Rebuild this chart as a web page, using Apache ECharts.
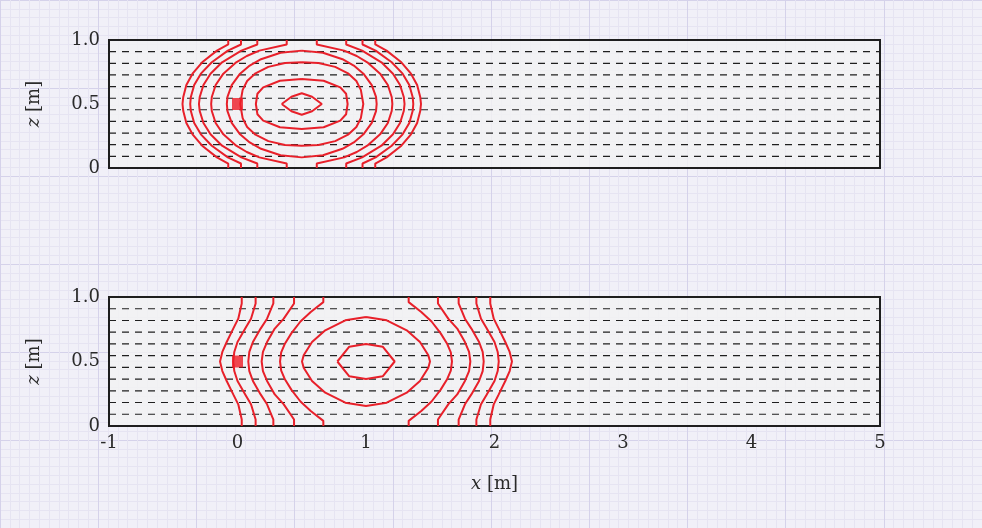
<!DOCTYPE html>
<html>
<head>
<meta charset="utf-8">
<title>Field contours in a layered strip</title>
<script src="https://cdn.jsdelivr.net/npm/echarts@6/dist/echarts.min.js"></script>
<style>
  html, body { margin: 0; padding: 0; background: #f1f0f8; }
  #chart { width: 982px; height: 528px; }
</style>
</head>
<body>
<div id="chart"></div>
<script>
// Axis ranges and tick labels
const xRange = [-1, 5];
const zRange = [0, 1];
const zTickLabels = { 0: '0', 0.5: '0.5', 1: '1.0' };

// Horizontal layer interfaces (dashed)
const layerLevels = [0.091, 0.182, 0.273, 0.364, 0.455, 0.545, 0.636, 0.727, 0.818, 0.909];

// Source location
const sourcePoint = [0, 0.5];

// Upper panel: contour polylines [x, z]
const upperCurves = [
  [[-0.072,1],[-0.072,0.965],[-0.16,0.917],[-0.275,0.826],[-0.35,0.737],[-0.398,0.648],[-0.422,0.555],[-0.428,0.5],[-0.422,0.445],[-0.398,0.352],[-0.35,0.263],[-0.275,0.174],[-0.16,0.083],[-0.072,0.035],[-0.072,0]],
  [[1.072,1],[1.072,0.965],[1.16,0.917],[1.275,0.826],[1.35,0.737],[1.398,0.648],[1.422,0.555],[1.428,0.5],[1.422,0.445],[1.398,0.352],[1.35,0.263],[1.275,0.174],[1.16,0.083],[1.072,0.035],[1.072,0]],
  [[0.027,1],[0.027,0.965],[-0.075,0.917],[-0.2,0.826],[-0.285,0.737],[-0.337,0.648],[-0.363,0.555],[-0.368,0.5],[-0.363,0.445],[-0.337,0.352],[-0.285,0.263],[-0.2,0.174],[-0.075,0.083],[0.027,0.035],[0.027,0]],
  [[0.973,1],[0.973,0.965],[1.075,0.917],[1.2,0.826],[1.285,0.737],[1.337,0.648],[1.363,0.555],[1.368,0.5],[1.363,0.445],[1.337,0.352],[1.285,0.263],[1.2,0.174],[1.075,0.083],[0.973,0.035],[0.973,0]],
  [[0.154,1],[0.154,0.965],[0.03,0.917],[-0.12,0.826],[-0.21,0.737],[-0.265,0.648],[-0.294,0.555],[-0.3,0.5],[-0.294,0.445],[-0.265,0.352],[-0.21,0.263],[-0.12,0.174],[0.03,0.083],[0.154,0.035],[0.154,0]],
  [[0.846,1],[0.846,0.965],[0.97,0.917],[1.12,0.826],[1.21,0.737],[1.265,0.648],[1.294,0.555],[1.3,0.5],[1.294,0.445],[1.265,0.352],[1.21,0.263],[1.12,0.174],[0.97,0.083],[0.846,0.035],[0.846,0]],
  [[0.383,1],[0.383,0.965],[0.17,0.917],[0.072,0.875],[-0.01,0.826],[-0.11,0.737],[-0.17,0.648],[-0.2,0.555],[-0.205,0.5],[-0.2,0.445],[-0.17,0.352],[-0.11,0.263],[-0.01,0.174],[0.072,0.125],[0.17,0.083],[0.383,0.035],[0.383,0]],
  [[0.617,1],[0.617,0.965],[0.83,0.917],[0.928,0.875],[1.01,0.826],[1.11,0.737],[1.17,0.648],[1.2,0.555],[1.205,0.5],[1.2,0.445],[1.17,0.352],[1.11,0.263],[1.01,0.174],[0.928,0.125],[0.83,0.083],[0.617,0.035],[0.617,0]],
  [[0.5,0.917],[0.665,0.9],[0.817,0.85],[0.905,0.8],[0.98,0.737],[1.045,0.648],[1.078,0.555],[1.083,0.5],[1.078,0.445],[1.045,0.352],[0.98,0.263],[0.905,0.2],[0.817,0.15],[0.665,0.1],[0.5,0.083],[0.335,0.1],[0.183,0.15],[0.095,0.2],[0.02,0.263],[-0.045,0.352],[-0.078,0.445],[-0.083,0.5],[-0.078,0.555],[-0.045,0.648],[0.02,0.737],[0.095,0.8],[0.183,0.85],[0.335,0.9],[0.5,0.917]],
  [[0.5,0.826],[0.63,0.82],[0.76,0.79],[0.86,0.74],[0.925,0.68],[0.96,0.61],[0.979,0.5],[0.96,0.39],[0.925,0.32],[0.86,0.26],[0.76,0.21],[0.63,0.18],[0.5,0.174],[0.37,0.18],[0.24,0.21],[0.14,0.26],[0.075,0.32],[0.04,0.39],[0.021,0.5],[0.04,0.61],[0.075,0.68],[0.14,0.74],[0.24,0.79],[0.37,0.82],[0.5,0.826]],
  [[0.5,0.695],[0.67,0.682],[0.8,0.63],[0.845,0.58],[0.857,0.5],[0.845,0.42],[0.8,0.37],[0.67,0.318],[0.5,0.305],[0.33,0.318],[0.2,0.37],[0.155,0.42],[0.143,0.5],[0.155,0.58],[0.2,0.63],[0.33,0.682],[0.5,0.695]],
  [[0.344,0.5],[0.42,0.557],[0.5,0.584],[0.58,0.557],[0.656,0.5],[0.58,0.443],[0.5,0.416],[0.42,0.443],[0.344,0.5]]
];

// Lower panel: contour polylines [x, z]
const lowerCurves = [
  [[0.033,1],[0.033,0.95],[0.006,0.832],[-0.033,0.755],[-0.084,0.651],[-0.118,0.574],[-0.136,0.5],[-0.118,0.426],[-0.084,0.349],[-0.033,0.245],[0.006,0.168],[0.033,0.05],[0.033,0]],
  [[1.967,1],[1.967,0.95],[1.994,0.832],[2.033,0.755],[2.084,0.651],[2.118,0.574],[2.136,0.5],[2.118,0.426],[2.084,0.349],[2.033,0.245],[1.994,0.168],[1.967,0.05],[1.967,0]],
  [[0.141,1],[0.141,0.95],[0.105,0.832],[0.06,0.755],[0.0,0.651],[-0.025,0.574],[-0.033,0.5],[-0.025,0.426],[0.0,0.349],[0.06,0.245],[0.105,0.168],[0.141,0.05],[0.141,0]],
  [[1.859,1],[1.859,0.95],[1.895,0.832],[1.94,0.755],[2.0,0.651],[2.025,0.574],[2.033,0.5],[2.025,0.426],[2.0,0.349],[1.94,0.245],[1.895,0.168],[1.859,0.05],[1.859,0]],
  [[0.279,1],[0.279,0.95],[0.23,0.832],[0.18,0.755],[0.12,0.651],[0.092,0.574],[0.084,0.5],[0.092,0.426],[0.12,0.349],[0.18,0.245],[0.23,0.168],[0.279,0.05],[0.279,0]],
  [[1.721,1],[1.721,0.95],[1.77,0.832],[1.82,0.755],[1.88,0.651],[1.908,0.574],[1.916,0.5],[1.908,0.426],[1.88,0.349],[1.82,0.245],[1.77,0.168],[1.721,0.05],[1.721,0]],
  [[0.44,1],[0.44,0.95],[0.36,0.832],[0.29,0.755],[0.23,0.651],[0.198,0.574],[0.188,0.5],[0.198,0.426],[0.23,0.349],[0.29,0.245],[0.36,0.168],[0.44,0.05],[0.44,0]],
  [[1.56,1],[1.56,0.95],[1.64,0.832],[1.71,0.755],[1.77,0.651],[1.802,0.574],[1.812,0.5],[1.802,0.426],[1.77,0.349],[1.71,0.245],[1.64,0.168],[1.56,0.05],[1.56,0]],
  [[0.668,1],[0.668,0.96],[0.57,0.884],[0.49,0.81],[0.42,0.72],[0.37,0.64],[0.34,0.57],[0.331,0.5],[0.34,0.43],[0.37,0.36],[0.42,0.28],[0.49,0.19],[0.57,0.116],[0.668,0.04],[0.668,0]],
  [[1.332,1],[1.332,0.96],[1.43,0.884],[1.51,0.81],[1.58,0.72],[1.63,0.64],[1.66,0.57],[1.669,0.5],[1.66,0.43],[1.63,0.36],[1.58,0.28],[1.51,0.19],[1.43,0.116],[1.332,0.04],[1.332,0]],
  [[1,0.845],[1.161,0.819],[1.317,0.742],[1.42,0.651],[1.485,0.548],[1.498,0.5],[1.485,0.452],[1.42,0.349],[1.317,0.258],[1.161,0.181],[1,0.155],[0.839,0.181],[0.683,0.258],[0.58,0.349],[0.515,0.452],[0.502,0.5],[0.515,0.548],[0.58,0.651],[0.683,0.742],[0.839,0.819],[1,0.845]],
  [[0.777,0.5],[0.87,0.615],[1.0,0.635],[1.13,0.615],[1.223,0.5],[1.13,0.385],[1.0,0.365],[0.87,0.385],[0.777,0.5]]
];

const SERIF = '"DejaVu Serif", "Liberation Serif", serif';
const INK = '#2a2a2a';
const RED = '#e8202a';

const chart = echarts.init(document.getElementById('chart'), null, { renderer: 'canvas' });

const labelStyle = { fontFamily: SERIF, fontSize: 18, color: INK };
const nameStyle = {
  fontFamily: SERIF, fontSize: 18, color: INK,
  rich: { it: { fontFamily: SERIF, fontSize: 18, fontStyle: 'italic', color: INK } }
};

// Panel grids share the same x range
function panelX(gridIndex, showLabels) {
  return {
    gridIndex, type: 'value', min: xRange[0], max: xRange[1], interval: 1,
    axisLine: { show: false }, axisTick: { show: false }, splitLine: { show: false },
    axisLabel: Object.assign({ show: showLabels, margin: 8 }, labelStyle),
    name: showLabels ? '{it|x} [m]' : '',
    nameLocation: 'middle', nameGap: 49, nameTextStyle: nameStyle, z: 3
  };
}
function panelY(gridIndex) {
  return {
    gridIndex, type: 'value', min: zRange[0], max: zRange[1], interval: 0.5,
    axisLine: { show: false }, axisTick: { show: false }, splitLine: { show: false },
    axisLabel: Object.assign({ margin: 9, formatter: v => zTickLabels[v] }, labelStyle),
    name: '{it|z} [m]', nameLocation: 'middle', nameGap: 66, nameTextStyle: nameStyle, z: 3
  };
}

const series = [];
// Dashed layer lines in both panels
[1, 2].forEach(function (g) {
  layerLevels.forEach(function (z) {
    series.push({
      type: 'line', xAxisIndex: g, yAxisIndex: g, silent: true, showSymbol: false,
      data: [[xRange[0], z], [xRange[1], z]],
      lineStyle: { color: '#1f1f1f', width: 1.2, type: [7, 6] }, z: 3
    });
  });
});
// Red contour lines
[[1, upperCurves], [2, lowerCurves]].forEach(function (pair) {
  pair[1].forEach(function (curve) {
    series.push({
      type: 'line', xAxisIndex: pair[0], yAxisIndex: pair[0], silent: true, showSymbol: false,
      data: curve, lineStyle: { color: RED, width: 2 }, z: 4
    });
  });
});
// Source marker
[1, 2].forEach(function (g) {
  series.push({
    type: 'scatter', xAxisIndex: g, yAxisIndex: g, silent: true,
    symbol: 'rect', symbolSize: [11, 12], data: [sourcePoint],
    itemStyle: { color: '#ee1c25' }, z: 5
  });
});

chart.setOption({
  animation: false,
  backgroundColor: '#f1f0f8',
  grid: [
    // graph-paper backdrop
    { left: -148.5, top: -88.5, width: 1285, height: 771, show: false, z: 0 },
    { left: 109, top: 40, width: 771, height: 128, show: true,
      backgroundColor: 'rgba(242,242,242,0.8)', borderColor: '#1e1e1e', borderWidth: 2, z: 1 },
    { left: 109, top: 297, width: 771, height: 129, show: true,
      backgroundColor: 'rgba(242,242,242,0.8)', borderColor: '#1e1e1e', borderWidth: 2, z: 1 }
  ],
  xAxis: [
    { gridIndex: 0, type: 'value', min: 0, max: 10, interval: 1, z: 0,
      axisLine: { show: false }, axisTick: { show: false }, axisLabel: { show: false },
      splitLine: { show: true, lineStyle: { color: '#d5d2ea', width: 1 } },
      minorTick: { show: false, splitNumber: 10 },
      minorSplitLine: { show: true, lineStyle: { color: '#e6e4f2', width: 1 } } },
    panelX(1, false),
    panelX(2, true)
  ],
  yAxis: [
    { gridIndex: 0, type: 'value', min: 0, max: 6, interval: 1, z: 0,
      axisLine: { show: false }, axisTick: { show: false }, axisLabel: { show: false },
      splitLine: { show: true, lineStyle: { color: '#d5d2ea', width: 1 } },
      minorTick: { show: false, splitNumber: 10 },
      minorSplitLine: { show: true, lineStyle: { color: '#e6e4f2', width: 1 } } },
    panelY(1),
    panelY(2)
  ],
  series: series
});
</script>
</body>
</html>
